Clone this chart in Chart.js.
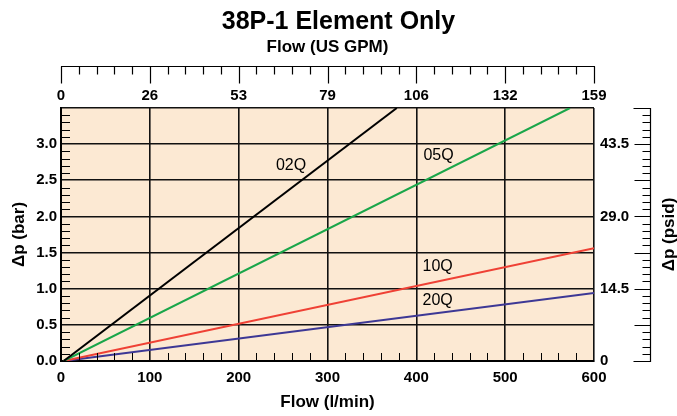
<!DOCTYPE html>
<html>
<head>
<meta charset="utf-8">
<script src="https://cdn.jsdelivr.net/npm/chart.js@4.4.1/dist/chart.umd.min.js"></script>
<style>
  html, body { margin: 0; padding: 0; background: #fff; }
  #wrap { width: 677px; height: 416px; }
</style>
</head>
<body>
<div id="wrap"><canvas id="chart"></canvas></div>
<script>
// flow in l/min, pressure drop in bar (lines run straight from near zero)
var seriesNames = ['02Q', '05Q', '10Q', '20Q'];
var flow02Q = [3, 378];
var dp02Q = [0, 3.5];
var flow05Q = [3, 573];
var dp05Q = [0, 3.5];
var flow10Q = [3, 600];
var dp10Q = [0, 1.56];
var flow20Q = [3, 600];
var dp20Q = [0, 0.94];

// tick labels
var gpmLabels = ['0', '26', '53', '79', '106', '132', '159'];
var psidTicks = [0, 14.5, 29.0, 43.5];

var font = "'Liberation Sans', Arial, sans-serif";
var colors = ['#000000', '#1aa64a', '#ef4135', '#3d3895'];

function pts(xs, ys) {
    return xs.map(function (x, i) { return { x: x, y: ys[i] }; });
}

var allFlows = [flow02Q, flow05Q, flow10Q, flow20Q];
var allDps = [dp02Q, dp05Q, dp10Q, dp20Q];

var datasets = seriesNames.map(function (name, i) {
    return {
        label: name,
        data: pts(allFlows[i], allDps[i]),
        borderColor: colors[i],
        borderWidth: 2,
        pointRadius: 0,
        tension: 0
    };
});

// where the series names sit (flow, dp)
var nameAt = [[259, 2.71], [425, 2.84], [424, 1.30], [424, 0.84]];

var decor = {
    id: 'decor',
    beforeDraw: function (chart) {
        var a = chart.chartArea, c = chart.ctx;
        c.save();
        c.fillStyle = '#fce9d3';
        c.fillRect(a.left, a.top, a.right - a.left, a.bottom - a.top);
        c.restore();
    },
    afterDraw: function (chart) {
        var c = chart.ctx, a = chart.chartArea;
        var xs = chart.scales.x, ys = chart.scales.y, y2 = chart.scales.y2;
        c.save();
        c.strokeStyle = '#000';
        c.lineWidth = 1;

        // minor ticks inside the plot
        c.beginPath();
        for (var v = 1; v < 35; v++) {
            if (v % 5 === 0) continue;
            var py = Math.round(ys.getPixelForValue(v / 10)) + 0.5;
            c.moveTo(a.left, py);
            c.lineTo(a.left + 9, py);
        }
        for (var f = 20; f < 600; f += 20) {
            if (f % 100 === 0) continue;
            var px = Math.round(xs.getPixelForValue(f)) + 0.5;
            c.moveTo(px, a.bottom);
            c.lineTo(px, a.bottom - 8);
        }
        c.stroke();

        // top axis (US GPM)
        var topY = 66.5;
        c.lineWidth = 1.2;
        c.beginPath();
        c.moveTo(a.left, topY);
        c.lineTo(a.right + 1, topY);
        for (var g = 0; g <= 600; g += 20) {
            var gx = Math.round(xs.getPixelForValue(g)) + 0.5;
            c.moveTo(gx, topY);
            c.lineTo(gx, topY + (g % 100 === 0 ? 17 : 8));
        }
        c.stroke();

        // right axis (psid)
        var rx = 650.5;
        var yb = y2.getPixelForValue(0), yt = y2.getPixelForValue(y2.max);
        c.beginPath();
        c.moveTo(rx, yt);
        c.lineTo(rx, yb + 1);
        for (var k = 0; k <= 35; k++) {
            var ky = Math.round(ys.getPixelForValue(k / 10)) + 0.5;
            var len = (k === 0 || k === 35) ? 17 : (k % 5 === 0 ? 16 : 8);
            c.moveTo(rx, ky);
            c.lineTo(rx - len, ky);
        }
        c.stroke();

        c.fillStyle = '#000';
        c.font = 'bold 17px ' + font;
        c.textAlign = 'center';
        c.textBaseline = 'middle';
        c.translate(669, (a.top + a.bottom) / 2);
        c.rotate(-Math.PI / 2);
        c.fillText('\u0394p (psid)', 0, 0);
        c.restore();

        // series names
        c.save();
        c.fillStyle = '#000';
        c.font = '16px ' + font;
        c.textAlign = 'center';
        c.textBaseline = 'middle';
        seriesNames.forEach(function (name, i) {
            c.fillText(name, xs.getPixelForValue(nameAt[i][0]), ys.getPixelForValue(nameAt[i][1]));
        });
        c.restore();
    }
};

var tickFont = { family: font, size: 15, weight: 'bold' };
var titleFont = { family: font, size: 17, weight: 'bold' };

new Chart(document.getElementById('chart'), {
    type: 'line',
    data: { datasets: datasets },
    plugins: [decor],
    options: {
        responsive: true,
        maintainAspectRatio: false,
        animation: false,
        layout: { padding: 0 },
        plugins: {
            legend: { display: false },
            tooltip: { enabled: false },
            title: {
                display: true,
                text: '38P-1 Element Only',
                color: '#000',
                font: { family: font, size: 25, weight: 'bold' },
                padding: { top: 7, bottom: 0 }
            }
        },
        scales: {
            x: {
                type: 'linear',
                min: 0,
                max: 600,
                ticks: { stepSize: 100, color: '#000', font: tickFont, padding: 8 },
                grid: { color: '#111', lineWidth: 1.6, drawTicks: false },
                border: { color: '#000', width: 2 },
                title: { display: true, text: 'Flow (l/min)', color: '#000', font: titleFont, padding: { top: 0, bottom: 3 } },
                afterFit: function (s) { s.height = 55; }
            },
            x2: {
                type: 'linear',
                position: 'top',
                min: 0,
                max: 600,
                ticks: {
                    stepSize: 100, color: '#000', font: tickFont, padding: 3,
                    callback: function (v, i) { return gpmLabels[i]; }
                },
                grid: { display: false, drawTicks: false },
                border: { display: false },
                title: { display: true, text: 'Flow (US GPM)', color: '#000', font: titleFont, padding: { top: 0, bottom: 0 } },
                afterFit: function (s) { s.height = 108 - 37; }
            },
            y: {
                type: 'linear',
                min: 0,
                max: 3.5,
                ticks: {
                    stepSize: 0.5, color: '#000', font: tickFont, padding: 4,
                    callback: function (v) { return v >= 3.5 ? '' : v.toFixed(1); }
                },
                grid: { color: '#111', lineWidth: 1.6, drawTicks: false },
                border: { color: '#000', width: 2 },
                title: { display: true, text: '\u0394p (bar)', color: '#000', font: titleFont, padding: { top: 9, bottom: 0 } },
                afterFit: function (s) { s.width = 61; }
            },
            y2: {
                type: 'linear',
                position: 'right',
                min: 0,
                max: 3.5 * 14.5,
                afterBuildTicks: function (s) {
                    s.ticks = psidTicks.map(function (v) { return { value: v }; });
                },
                ticks: {
                    color: '#000', font: tickFont, padding: 6,
                    callback: function (v) { return v === 0 ? '0' : v.toFixed(1); }
                },
                grid: { display: false, drawTicks: false },
                border: { display: false },
                afterFit: function (s) { s.width = 677 - 594; }
            }
        }
    }
});
</script>
</body>
</html>
